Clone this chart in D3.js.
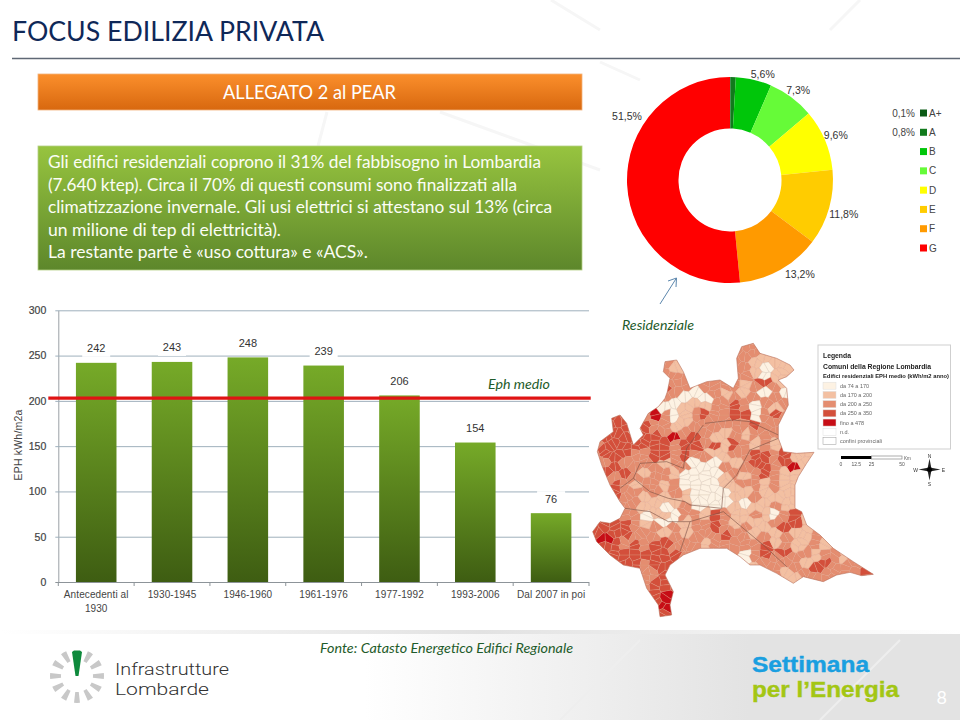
<!DOCTYPE html>
<html>
<head>
<meta charset="utf-8">
<script src="https://cdn.jsdelivr.net/npm/d3@7"></script>
<style>
	html, body { margin: 0; padding: 0; background: #fff; }
	svg { display: block; font-family: Lato, "Open Sans", sans-serif; }
	.small { font-family: "Liberation Sans", Arial, sans-serif; }
</style>
</head>
<body>
<div id="viz"></div>
<script>
const bodyLines = [
	'Gli edifici residenziali coprono il 31% del fabbisogno in Lombardia',
	'(7.640 ktep). Circa il 70% di questi consumi sono finalizzati alla',
	'climatizzazione invernale. Gli usi elettrici si attestano sul 13% (circa',
	'un milione di tep di elettricità).',
	'La restante parte è «uso cottura» e «ACS».'
];

// donut
const classNames = ['A+', 'A', 'B', 'C', 'D', 'E', 'F', 'G'];
const classShares = [0.1, 0.8, 5.6, 7.3, 9.6, 11.8, 13.2, 51.5];
const classColors = ['#0b5a14', '#117a1c', '#00c60a', '#66fb38', '#ffff00', '#ffcc00', '#ff9a00', '#ff0000'];

// bars
const periods = ['Antecedenti al\n1930', '1930-1945', '1946-1960', '1961-1976', '1977-1992', '1993-2006', 'Dal 2007 in poi'];
const ephValues = [242, 243, 248, 239, 206, 154, 76];
const ephMedio = 203;
const ephTicks = [0, 50, 100, 150, 200, 250, 300];

// map, read on a 30 unit grid: 0 lightest ... 4 darkest, dot is outside the region
const mapClassRows = [
	'...............22............',
	'..............2221...........',
	'.......21.....221011.........',
	'.......22.....221011.........',
	'.......322.222212321.........',
	'.......2200021212020.........',
	'......10011122320212.........',
	'..33.242012322330232.........',
	'..33.32211222222322..........',
	'.333233242321121222..........',
	'2333333323323132121..........',
	'2333223323221122332311.......',
	'.232222122000212332341.......',
	'.32321221000012123211........',
	'..3212212000011221211........',
	'..3221212100001121111........',
	'...221101200001011211........',
	'...220110221321121023........',
	'.333212021223212112331.......',
	'34332221212223221212112......',
	'.33232332221222223121121.....',
	'..33333332.....02323221221...',
	'...33233........12222133222..',
	'.....223..........2112222223.',
	'.....2333....................',
	'......34.....................',
	'......34.....................',
	'.......3.....................'
];
const mapClassColors = ['#fdf2e3', '#f3c0a2', '#e48d6f', '#d3503b', '#c70f14'];
const jitterX = [-9, 6, -3, 11, -7, 2, 9, -11, 4];
const jitterY = [5, -8, 10, -4, -10, 7, -2, 9, -6, 3, -7];

const lombardyOutline = [
	[455, 35], [490, 25], [510, 55], [560, 70], [600, 90], [612, 105], [590, 125], [565, 135], [590, 160], [595, 210],
	[580, 240], [565, 270], [565, 310], [580, 350], [620, 355], [672, 352], [650, 385], [625, 425], [615, 450], [615, 520],
	[635, 530], [650, 570], [690, 600], [730, 640], [790, 680], [850, 718], [815, 722], [780, 712], [740, 720], [700, 740],
	[640, 725], [610, 745], [560, 715], [510, 690], [480, 690], [450, 665], [410, 640], [370, 640], [330, 640], [280, 660],
	[240, 690], [225, 720], [250, 770], [240, 810], [245, 840], [210, 845], [205, 810], [170, 760], [150, 700], [100, 690],
	[60, 660], [20, 620], [8, 590], [30, 560], [60, 565], [90, 550], [105, 520], [90, 500], [60, 450], [35, 390],
	[22, 350], [30, 320], [70, 290], [65, 250], [90, 240], [110, 265], [130, 330], [160, 300], [150, 280], [175, 235],
	[205, 215], [225, 190], [232, 170], [240, 130], [220, 110], [225, 80], [260, 75], [280, 110], [300, 160], [350, 140],
	[390, 135], [430, 160], [445, 130], [440, 70]
];
const provinceBorders = [
	[[90, 460], [130, 430], [180, 470], [235, 490], [285, 500], [300, 510], [395, 520], [400, 460], [440, 420], [480, 345], [565, 310]],
	[[345, 265], [430, 255], [480, 260], [565, 300]],
	[[270, 650], [300, 560], [400, 530], [520, 630], [590, 695]],
	[[130, 430], [150, 385], [230, 380], [280, 400], [290, 340], [340, 270]],
	[[105, 520], [180, 530], [235, 560], [300, 560]]
];

const mapLegendNames = ['da 74 a 170', 'da 170 a 200', 'da 200 a 250', 'da 250 a 350', 'fino a 478', 'n.d.', 'confini provinciali'];
const mapLegendFills = ['#fdf2e3', '#f3c0a2', '#e48d6f', '#d3503b', '#c70f14', '#ffffff', '#ffffff'];
const scaleBarKm = [0, 12.5, 25, 50];
const logoSpokes = d3.range(1, 12);

const svg = d3.select('#viz').append('svg')
	.attr('width', 960)
	.attr('height', 720);

const defs = svg.append('defs');

function vGradient(id, top, bottom) {
	let g = defs.append('linearGradient').attr('id', id).attr('x1', 0).attr('x2', 0).attr('y1', 0).attr('y2', 1);
	g.append('stop').attr('offset', '0%').attr('stop-color', top);
	g.append('stop').attr('offset', '100%').attr('stop-color', bottom);
}

vGradient('orangeBox', '#fb8f2c', '#d8680f');
vGradient('greenBox', '#97c43f', '#5d872b');
vGradient('barFill', '#76aa28', '#3e5d12');

let footGrad = defs.append('linearGradient').attr('id', 'footFill');
footGrad.append('stop').attr('offset', '38%').attr('stop-color', '#fff');
footGrad.append('stop').attr('offset', '78%').attr('stop-color', '#e3e3e3');

let shadowGrad = defs.append('linearGradient').attr('id', 'footShadow');
shadowGrad.append('stop').attr('offset', '0%').attr('stop-color', '#fff');
shadowGrad.append('stop').attr('offset', '50%').attr('stop-color', '#e2e2e2');
shadowGrad.append('stop').attr('offset', '100%').attr('stop-color', '#fff');

defs.append('filter').attr('id', 'soft')
	.append('feGaussianBlur').attr('stdDeviation', 0.45);

function put(parent, str, x, y, size, fill, width) {
	let t = parent.append('text')
		.attr('x', x)
		.attr('y', y)
		.attr('font-size', size)
		.attr('fill', fill)
		.text(str);
	if (width) {
		t.attr('textLength', width).attr('lengthAdjust', 'spacingAndGlyphs');
	}
	return t;
}

// background
const bg = svg.append('g');
bg.append('rect').attr('x', 0).attr('y', 634).attr('width', 960).attr('height', 86).attr('fill', 'url(#footFill)');
bg.append('rect').attr('x', 0).attr('y', 630).attr('width', 960).attr('height', 4).attr('fill', 'url(#footShadow)');
bg.append('path')
	.attr('d', 'M551,0L600,30M327,112L318,146M440,112L600,170M600,62L640,80M860,0L830,30')
	.attr('stroke', '#f6f6f6')
	.attr('stroke-width', 3)
	.attr('fill', 'none');
bg.append('path')
	.attr('d', 'M560,720L640,640M820,720L900,640')
	.attr('stroke', '#eeeeee')
	.attr('stroke-width', 2)
	.attr('fill', 'none');

// header and text boxes
put(svg, 'FOCUS EDILIZIA PRIVATA', 12, 41, 27, '#0f2858', 312);
svg.append('line').attr('x1', 12).attr('x2', 960).attr('y1', 58.5).attr('y2', 58.5)
	.attr('stroke', '#5f6875').attr('stroke-width', 1.3);

svg.append('rect').attr('x', 38).attr('y', 74).attr('width', 544).attr('height', 36)
	.attr('fill', 'url(#orangeBox)').attr('stroke', '#f2b27c').attr('stroke-width', 0.8);
put(svg, 'ALLEGATO 2 al PEAR', 223, 99, 19, '#fff', 173);

svg.append('rect').attr('x', 38).attr('y', 146).attr('width', 544).attr('height', 124)
	.attr('fill', 'url(#greenBox)').attr('stroke', '#b5cf86').attr('stroke-width', 0.8);

const lineEnds = [541, 517, 552, 281, 368];
bodyLines.forEach((s, i) => {
	put(svg, s, 48, 168 + i * 22.5, 16.5, '#fbfdf5', lineEnds[i] - 48);
});

// donut
const donut = svg.append('g').attr('transform', 'translate(730,180)');
const pie = d3.pie().sort(null)(classShares);
const arc = d3.arc().innerRadius(51.5).outerRadius(103);
const labelArc = d3.arc().innerRadius(116).outerRadius(116);
// hand placed against the ring, as in the slide
const labelNudge = { 5.6: [6, 7], 7.3: [-1, 3], 9.6: [-1, 0], 11.8: [2, 3], 13.2: [13, -7], 51.5: [0, 0] };

donut.selectAll('path')
	.data(pie)
	.join('path')
	.attr('d', arc)
	.attr('fill', (d, i) => classColors[i]);

donut.selectAll('text')
	.data(pie.filter(d => d.data >= 1))
	.join('text')
	.attr('class', 'small')
	.attr('transform', d => {
		let c = labelArc.centroid(d);
		// the big red slice has its label up on the left, outside the ring
		if (d.data > 50) c = [-103, -64];
		let n = labelNudge[d.data];
		return `translate(${c[0] + n[0]},${c[1] + n[1]})`;
	})
	.attr('text-anchor', 'middle')
	.attr('dy', 4)
	.attr('font-size', 10.5)
	.attr('fill', '#333')
	.text(d => String(d.data).replace('.', ',') + '%');

const legendY = d3.scalePoint().domain(classNames).range([113, 248]);
const legend = svg.append('g').attr('class', 'small');
legend.selectAll('rect')
	.data(classNames)
	.join('rect')
	.attr('x', 920)
	.attr('y', d => legendY(d) - 3.5)
	.attr('width', 7)
	.attr('height', 7)
	.attr('fill', (d, i) => classColors[i]);
legend.selectAll('text.name')
	.data(classNames)
	.join('text')
	.attr('class', 'name')
	.attr('x', 929)
	.attr('y', d => legendY(d) + 3.5)
	.attr('font-size', 10)
	.attr('fill', '#444')
	.text(d => d);
legend.selectAll('text.share')
	.data(classNames.slice(0, 2))
	.join('text')
	.attr('class', 'share')
	.attr('x', 915)
	.attr('y', d => legendY(d) + 3.5)
	.attr('text-anchor', 'end')
	.attr('font-size', 10)
	.attr('fill', '#444')
	.text((d, i) => String(classShares[i]).replace('.', ',') + '%');

// arrow up to the donut
svg.append('path')
	.attr('d', 'M660,304L676.5,278M668,281L676.5,278L676,287')
	.attr('fill', 'none')
	.attr('stroke', '#5c87ad')
	.attr('stroke-width', 1);

put(svg, 'Residenziale', 622, 330, 14, '#1f5c2b', 72).attr('font-style', 'italic');

// bar chart
const x = d3.scaleBand()
	.domain(periods)
	.range([58.3, 589])
	.paddingInner(0.465)
	.paddingOuter(0.2325);
const y = d3.scaleLinear().domain([0, 300]).range([582, 310.3]);

const chart = svg.append('g').attr('class', 'small');

chart.append('g')
	.attr('transform', 'translate(58.3,0)')
	.call(d3.axisLeft(y).tickValues(ephTicks).tickSizeInner(-530.7).tickSizeOuter(0))
	.call(g => g.select('.domain').attr('stroke', '#9aa0a6'))
	.call(g => g.selectAll('.tick line').attr('x1', -3).attr('stroke', d => d === 0 ? '#8d9499' : '#9fb0bc').attr('stroke-width', 1))
	.call(g => g.selectAll('.tick text')
		.attr('x', -12)
		.attr('font-size', 10.5)
		.attr('font-family', '"Liberation Sans", sans-serif')
		.attr('fill', '#444')
		.attr('stroke', '#444')
		.attr('stroke-width', 0.2));

// little ticks on the band edges
chart.append('g').selectAll('line')
	.data(d3.range(periods.length + 1))
	.join('line')
	.attr('x1', i => 58.3 + i * x.step())
	.attr('x2', i => 58.3 + i * x.step())
	.attr('y1', 582)
	.attr('y2', 586)
	.attr('stroke', '#8d9499');

chart.append('g').selectAll('rect')
	.data(periods)
	.join('rect')
	.attr('x', d => x(d) + x.bandwidth() / 2 - 14)
	.attr('y', (d, i) => y(ephValues[i]) - 22)
	.attr('width', 28)
	.attr('height', 16)
	.attr('fill', '#fff');

chart.append('g').selectAll('rect')
	.data(periods)
	.join('rect')
	.attr('x', d => x(d))
	.attr('y', (d, i) => y(ephValues[i]))
	.attr('width', x.bandwidth())
	.attr('height', (d, i) => y(0) - y(ephValues[i]))
	.attr('fill', 'url(#barFill)');

chart.append('g').selectAll('text')
	.data(periods)
	.join('text')
	.attr('x', d => x(d) + x.bandwidth() / 2)
	.attr('y', (d, i) => y(ephValues[i]) - 10.5)
	.attr('text-anchor', 'middle')
	.attr('font-size', 11)
	.attr('fill', '#333')
	.text((d, i) => ephValues[i]);

chart.append('g')
	.attr('transform', 'translate(0,582)')
	.call(d3.axisBottom(x).tickSize(0).tickPadding(9))
	.call(g => g.select('.domain').remove())
	.call(g => g.selectAll('.tick text').each(function (d) {
		let t = d3.select(this).text(null)
			.attr('font-family', '"Liberation Sans", sans-serif')
			.attr('font-size', 10)
			.attr('letter-spacing', 0.1)
			.attr('fill', '#444');
		d.split('\n').forEach((s, i) => {
			t.append('tspan').attr('x', 0).attr('dy', i ? 14 : '0.71em').text(s);
		});
	}));

chart.append('text')
	.attr('transform', 'translate(22,445) rotate(-90)')
	.attr('text-anchor', 'middle')
	.attr('font-size', 10.5)
	.attr('letter-spacing', 0.2)
	.attr('fill', '#444')
	.text('EPH kWh/m2a');

chart.append('line')
	.attr('x1', 48.3)
	.attr('x2', 590.7)
	.attr('y1', y(ephMedio))
	.attr('y2', y(ephMedio))
	.attr('stroke', '#e01414')
	.attr('stroke-width', 3.2);

put(svg, 'Eph medio', 488, 389, 14, '#1f5c2b', 62).attr('font-style', 'italic');

// map
const mapX = d3.scaleLinear().domain([0, 900]).range([590, 890]);
const mapY = d3.scaleLinear().domain([0, 870]).range([335, 625]);

// every grid square is split in two comuni of the same class
const seeds = [];
mapClassRows.forEach((row, r) => {
	row.split('').forEach((c, i) => {
		if (c === '.') return;
		let k = r * mapClassRows[0].length + i;
		let jx = jitterX[k % jitterX.length];
		let jy = jitterY[k % jitterY.length];
		seeds.push({ x: mapX(15 + i * 30 + jx), y: mapY(30 + r * 30 + jy), cls: +c });
		seeds.push({ x: mapX(15 + i * 30 - jy), y: mapY(30 + r * 30 + jx), cls: +c });
	});
});

const voronoi = d3.Delaunay.from(seeds, d => d.x, d => d.y).voronoi([590, 335, 890, 625]);
const outlinePath = d3.line().x(d => mapX(d[0])).y(d => mapY(d[1])).curve(d3.curveLinearClosed);
const borderPath = d3.line().x(d => mapX(d[0])).y(d => mapY(d[1]));

defs.append('clipPath').attr('id', 'lombardia')
	.append('path').attr('d', outlinePath(lombardyOutline));

const map = svg.append('g').attr('filter', 'url(#soft)');
const cells = map.append('g').attr('clip-path', 'url(#lombardia)');

cells.selectAll('path')
	.data(seeds)
	.join('path')
	.attr('d', (d, i) => voronoi.renderCell(i))
	.attr('fill', d => mapClassColors[d.cls])
	.attr('stroke', d => d.cls === 0 ? '#cdb8a8' : '#dd9c84')
	.attr('stroke-width', 0.3);

cells.selectAll('path.prov')
	.data(provinceBorders)
	.join('path')
	.attr('class', 'prov')
	.attr('d', borderPath)
	.attr('fill', 'none')
	.attr('stroke', '#7a5044')
	.attr('stroke-width', 0.6);

map.append('path')
	.attr('d', outlinePath(lombardyOutline))
	.attr('fill', 'none')
	.attr('stroke', '#b9705c')
	.attr('stroke-width', 0.6);

// map legend
const mapLegend = svg.append('g').attr('class', 'small').attr('filter', 'url(#soft)');
mapLegend.append('rect')
	.attr('x', 818).attr('y', 345).attr('width', 132.5).attr('height', 104)
	.attr('fill', '#fff').attr('stroke', '#cfcfcf').attr('stroke-width', 1);
put(mapLegend, 'Legenda', 823, 358, 6.8, '#222').attr('font-weight', 'bold');
put(mapLegend, 'Comuni della Regione Lombardia', 823, 368.5, 6.8, '#222').attr('font-weight', 'bold');
put(mapLegend, 'Edifici residenziali EPH medio (kWh/m2   anno)', 823, 378, 6.2, '#222', 126).attr('font-weight', 'bold');

const mapLegendY = d3.scalePoint().domain(mapLegendNames).range([385.7, 441]);
mapLegend.selectAll('rect.sw')
	.data(mapLegendNames)
	.join('rect')
	.attr('class', 'sw')
	.attr('x', 823)
	.attr('y', d => mapLegendY(d) - 3.5)
	.attr('width', 13)
	.attr('height', 7)
	.attr('fill', (d, i) => mapLegendFills[i])
	.attr('stroke', (d, i) => i === 6 ? '#999' : '#ddd')
	.attr('stroke-width', 0.5);
mapLegend.selectAll('text.nm')
	.data(mapLegendNames)
	.join('text')
	.attr('class', 'nm')
	.attr('x', 840)
	.attr('y', d => mapLegendY(d) + 2)
	.attr('font-size', 5.5)
	.attr('fill', '#666')
	.text(d => d);

// scale bar and compass
const km = d3.scaleLinear().domain([0, 50]).range([841, 902]);
const scaleBar = svg.append('g').attr('class', 'small').attr('filter', 'url(#soft)');
scaleBar.append('rect').attr('x', km(0)).attr('y', 456).attr('width', km(25) - km(0)).attr('height', 3).attr('fill', '#000');
scaleBar.append('rect').attr('x', km(25)).attr('y', 456).attr('width', km(50) - km(25)).attr('height', 3)
	.attr('fill', '#fff').attr('stroke', '#777').attr('stroke-width', 0.6);
scaleBar.selectAll('text')
	.data(scaleBarKm)
	.join('text')
	.attr('x', d => km(d))
	.attr('y', 466)
	.attr('text-anchor', 'middle')
	.attr('font-size', 5)
	.attr('fill', '#555')
	.text(d => d);
put(scaleBar, 'Km', 904, 460, 4.5, '#555');

const star = d3.lineRadial()
	.angle((d, i) => i * Math.PI / 4)
	.radius(d => d)
	.curve(d3.curveLinearClosed);
const compass = svg.append('g').attr('class', 'small').attr('transform', 'translate(929.5,469.5)').attr('filter', 'url(#soft)');
compass.append('path').attr('d', star([11, 2.5, 11, 2.5, 11, 2.5, 11, 2.5])).attr('fill', '#222');
compass.append('circle').attr('r', 2.5).attr('fill', '#000');
compass.selectAll('text')
	.data(['N', 'E', 'S', 'W'])
	.join('text')
	.attr('transform', (d, i) => `rotate(${i * 90}) translate(0,-14) rotate(${-i * 90})`)
	.attr('text-anchor', 'middle')
	.attr('dy', 2)
	.attr('font-size', 5)
	.attr('fill', '#333')
	.text(d => d);

// source and footer
put(svg, 'Fonte: Catasto Energetico Edifici Regionale', 320, 653, 14, '#1f5c2b', 253).attr('font-style', 'italic');

const logo = svg.append('g').attr('transform', 'translate(77,676)');
logo.selectAll('path.spoke')
	.data(logoSpokes)
	.join('path')
	.attr('class', 'spoke')
	.attr('d', d3.arc().innerRadius(16).outerRadius(27).startAngle(-0.11).endAngle(0.11)())
	.attr('transform', d => `rotate(${d * 360 / 12})`)
	.attr('fill', '#c8c8c8');
logo.append('path')
	.attr('d', d3.line()([[-1.5, 0], [1.5, 0], [5, -24], [3, -25.5], [-3, -25.5], [-5, -24]]))
	.attr('fill', '#0e8a3c');

const logoFont = 'Roboto, Lato, sans-serif';
put(svg, 'Infrastrutture', 115, 675, 17, '#333', 114).attr('font-weight', 300).attr('font-family', logoFont);
put(svg, 'Lombarde', 115, 695, 17, '#333', 94).attr('font-weight', 300).attr('font-family', logoFont);

const brandFont = '"Liberation Sans", Arial, sans-serif';
put(svg, 'Settimana', 752, 672, 21.9, '#1a9fe0', 117)
	.attr('font-weight', 'bold').attr('font-family', brandFont).attr('stroke', '#1a9fe0').attr('stroke-width', 0.4);
put(svg, 'per l’Energia', 752, 696.5, 21.9, '#a3c614', 147)
	.attr('font-weight', 'bold').attr('font-family', brandFont).attr('stroke', '#a3c614').attr('stroke-width', 0.4);

put(svg, '8', 936.5, 704, 18, '#fff');
</script>
</body>
</html>
